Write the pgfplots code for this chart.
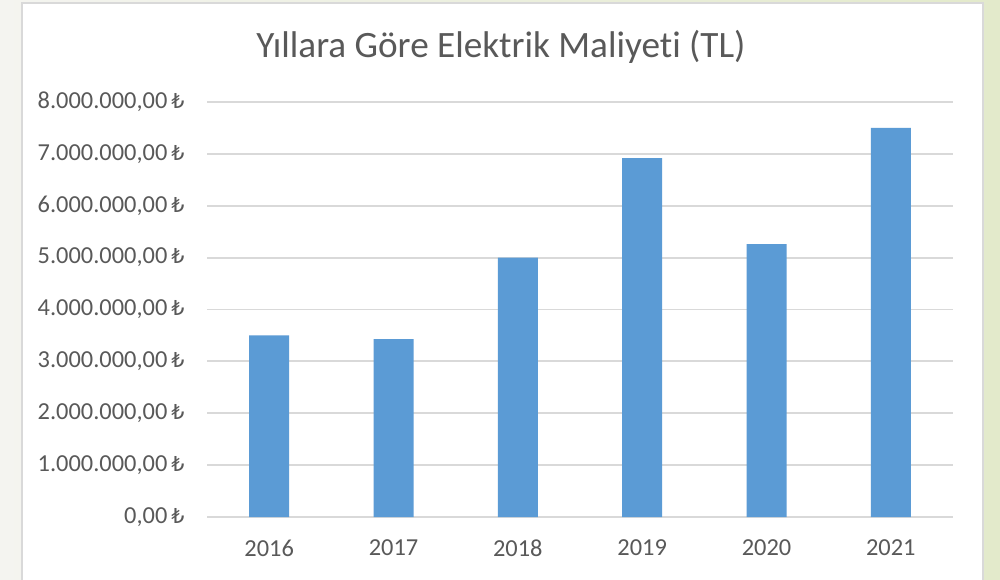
\documentclass[border=0pt]{standalone}
\usepackage{fontspec}
\setmainfont{Carlito}[Ligatures={NoCommon}]
\newfontfamily\lirafont{DejaVu Sans}
\usepackage{pgfplots}
\pgfplotsset{compat=1.18}
\definecolor{txt}{HTML}{595959}
\definecolor{gridc}{HTML}{D9D9D9}
\definecolor{barc}{HTML}{5B9BD5}
\definecolor{bgl}{HTML}{F4F4F0}
\definecolor{bgr}{HTML}{E3EACB}
\newcommand{\TL}{\,{\lirafont\fontsize{10.3pt}{12pt}\selectfont ₺}}
\begin{document}
\begin{tikzpicture}
\useasboundingbox (0pt,0pt) rectangle (500pt,289.5pt);
\clip (0pt,0pt) rectangle (500pt,289.5pt);
\shade[left color=bgl, right color=bgr] (0pt,0pt) rectangle (500pt,289.5pt);
\fill[white, draw=gridc, line width=1pt] (11pt,-5pt) rectangle (491.5pt,288pt);
\node[text=txt, font=\fontsize{18.6}{21}\selectfont] at (250.5pt,266pt) {Yıllara Göre Elektrik Maliyeti (TL)};
\begin{axis}[
  at={(103.5pt,31pt)}, anchor=south west,
  scale only axis, width=373pt, height=207.5pt,
  xmin=-0.5, xmax=5.5, ymin=0, ymax=8000000,
  axis line style={draw=none},
  major tick length=0pt,
  ybar, bar width=20pt,
  xtick={0,1,2,3,4,5},
  xticklabels={2016,2017,2018,2019,2020,2021},
  ytick={0,1000000,2000000,3000000,4000000,5000000,6000000,7000000,8000000},
  yticklabels={{0,00\TL},{1.000.000,00\TL},{2.000.000,00\TL},{3.000.000,00\TL},{4.000.000,00\TL},{5.000.000,00\TL},{6.000.000,00\TL},{7.000.000,00\TL},{8.000.000,00\TL}},
  ymajorgrids,
  major grid style={draw=gridc, line width=0.9pt},
  tick label style={text=txt, font=\fontsize{12.2}{14}\selectfont},
  yticklabel style={anchor=east, inner sep=0pt, xshift=-11pt},
  xticklabel style={anchor=center, inner sep=0pt, yshift=-15.5pt},
  scaled y ticks=false,
  clip=false,
]
\addplot[fill=barc, draw=none, bar shift=0pt] coordinates {
  (0,3500000) (1,3430000) (2,5000000) (3,6920000) (4,5260000) (5,7500000)
};
\end{axis}
\end{tikzpicture}
\end{document}
